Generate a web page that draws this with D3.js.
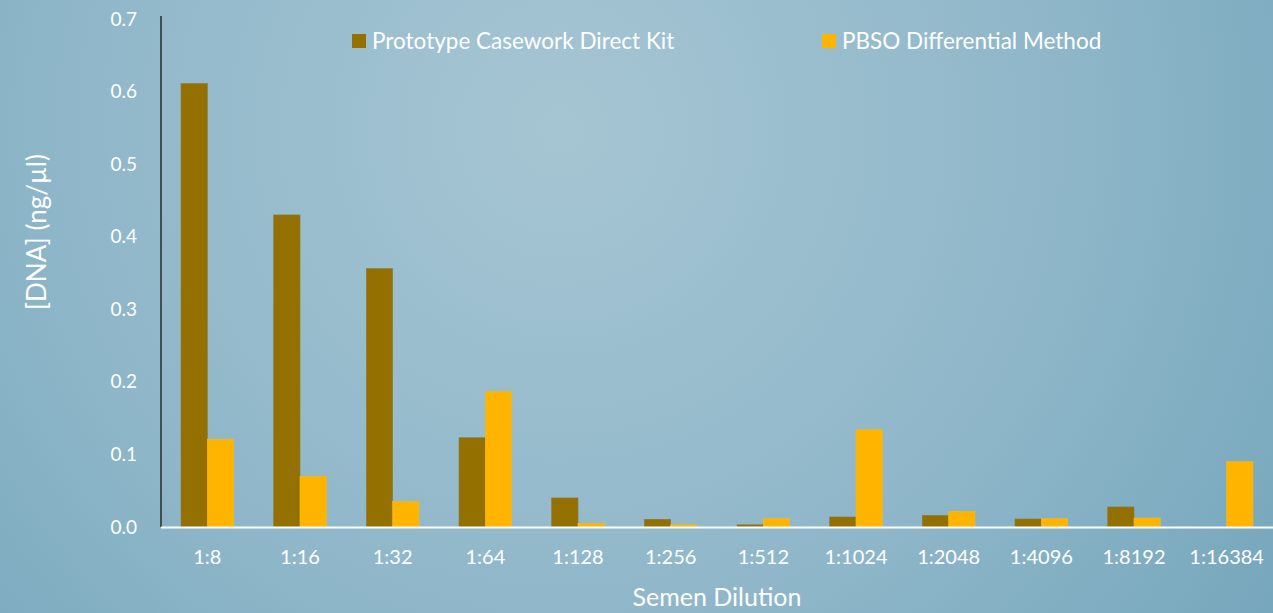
<!DOCTYPE html>
<html><head><meta charset="utf-8">
<script src="https://cdnjs.cloudflare.com/ajax/libs/d3/7.8.5/d3.min.js"></script>
<style>html,body{margin:0;padding:0;overflow:hidden;}svg{display:block;}</style>
</head><body>
<script>
const categories = ["1:8","1:16","1:32","1:64","1:128","1:256","1:512","1:1024","1:2048","1:4096","1:8192","1:16384"];
const seriesNames = ["Prototype Casework Direct Kit","PBSO Differential Method"];
const kitValues = [0.611,0.430,0.356,0.123,0.040,0.0106,0.003,0.0138,0.016,0.011,0.0276,0];
const pbsoValues = [0.121,0.070,0.035,0.187,0.005,0.003,0.0115,0.134,0.0216,0.0115,0.0124,0.090];
const yTicks = [0,0.1,0.2,0.3,0.4,0.5,0.6,0.7];
const colors = ["#937000","#FFB400"];

const W=1273,H=613;
const font = "Lato, 'Open Sans', sans-serif";
const svg = d3.select("body").append("svg").attr("width",W).attr("height",H);
const defs = svg.append("defs");
const g = defs.append("radialGradient").attr("id","bg").attr("gradientUnits","userSpaceOnUse")
  .attr("cx",560).attr("cy",130).attr("r",900);
g.append("stop").attr("offset","0").attr("stop-color","#a6c5d3");
g.append("stop").attr("offset","0.55").attr("stop-color","#8fb7c9");
g.append("stop").attr("offset","1").attr("stop-color","#74a5bb");
svg.append("rect").attr("width",W).attr("height",H).attr("fill","url(#bg)");

const x0=161,x1=1273,yTop=16,yBase=527;
const y = d3.scaleLinear().domain([0,0.7]).range([yBase,19]);
const xb = d3.scaleBand().domain(categories).range([x0,x1]).paddingInner(0.432).paddingOuter(0.216);
const xs = d3.scaleBand().domain([0,1]).range([0,xb.bandwidth()]);

const data = categories.map((c,i)=>({c,vals:[kitValues[i],pbsoValues[i]]}));
const grp = svg.append("g").selectAll("g").data(data).join("g")
  .attr("transform",d=>`translate(${xb(d.c)},0)`);
grp.selectAll("rect").data(d=>d.vals.map((v,k)=>({v,k}))).join("rect")
  .attr("x",d=>xs(d.k)).attr("width",xs.bandwidth())
  .attr("y",d=>y(d.v)).attr("height",d=>yBase-y(d.v))
  .attr("fill",d=>colors[d.k])
  .attr("stroke",d=>d.k===0?"#8a7a3a":"#f5b820").attr("stroke-width",0.6)
  .attr("stroke-opacity",d=>d.v>0?1:0);

// y axis
const ya = svg.append("g").attr("transform",`translate(${x0},0)`)
  .call(d3.axisLeft(y).tickValues(yTicks).tickSize(0).tickPadding(24).tickFormat(d3.format(".1f")));
ya.select(".domain").remove();
ya.selectAll("text").attr("fill","#fff").attr("font-size",19).attr("font-family",font);
svg.append("line").attr("x1",x0).attr("x2",x0).attr("y1",yTop).attr("y2",yBase).attr("stroke","#333").attr("stroke-width",1.6);

// x axis
const xa = svg.append("g").attr("transform",`translate(0,${yBase})`)
  .call(d3.axisBottom(xb).tickSize(0).tickPadding(23));
xa.select(".domain").remove();
xa.selectAll("text").attr("fill","#fff").attr("font-size",20).attr("font-family",font);
svg.append("line").attr("x1",x0).attr("x2",x1).attr("y1",yBase+0.5).attr("y2",yBase+0.5).attr("stroke","#fff").attr("stroke-width",2);

// titles
svg.append("text").attr("x",717).attr("y",606).attr("text-anchor","middle").attr("fill","#fff")
  .attr("font-size",25).attr("font-family",font).text("Semen Dilution");
svg.append("text").attr("transform","translate(46,232) rotate(-90)").attr("text-anchor","middle").attr("fill","#fff")
  .attr("font-size",26).attr("font-family",font).text("[DNA] (ng/µl)");

// legend
const legX=[352,822];
const leg = svg.append("g").selectAll("g").data(seriesNames).join("g")
  .attr("transform",(d,i)=>`translate(${legX[i]},34)`);
leg.append("rect").attr("width",14).attr("height",14).attr("fill",(d,i)=>colors[i]);
leg.append("text").attr("x",20).attr("y",15).attr("fill","#fff").attr("font-size",22.5).attr("font-family",font).text(d=>d);
</script>
</body></html>
